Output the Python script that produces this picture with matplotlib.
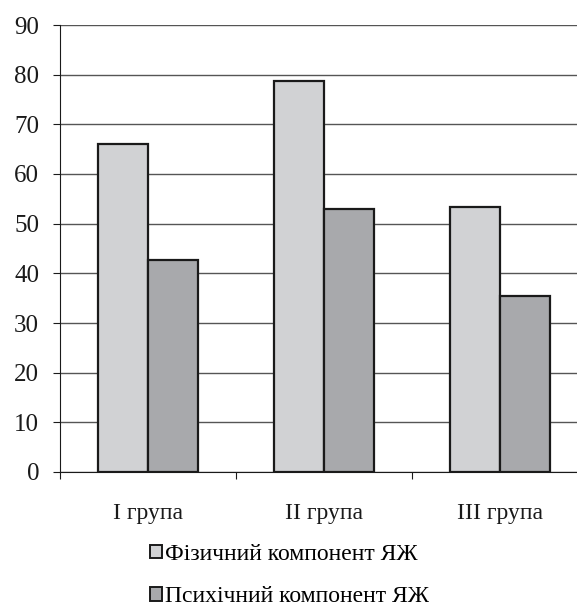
import matplotlib
matplotlib.use("Agg")
import matplotlib.pyplot as plt
import numpy as np
from matplotlib.patches import Patch

categories = ["I група", "II група", "III група"]
physical = [66.0, 78.7, 53.3]
mental = [42.7, 52.9, 35.4]
series_names = ["Фізичний компонент ЯЖ", "Психічний компонент ЯЖ"]
y_ticks = [0, 10, 20, 30, 40, 50, 60, 70, 80, 90]

plt.rcParams["font.family"] = ["Liberation Serif", "DejaVu Serif"]

fig = plt.figure(figsize=(5.77, 6.08), dpi=100)
ax = fig.add_axes([60 / 577, 1 - 472 / 608, 528 / 577, 447 / 608])

x = np.arange(len(categories))
w = 0.284
light = "#d1d2d4"
dark = "#a8a9ac"
ax.bar(x - w / 2, physical, w, color=light, edgecolor="#1a1a1a", linewidth=1.6, zorder=3)
ax.bar(x + w / 2, mental, w, color=dark, edgecolor="#1a1a1a", linewidth=1.6, zorder=3)

ax.set_xlim(-0.5, 2.5)
ax.set_ylim(0, 90)
ax.set_yticks(y_ticks)
ax.yaxis.grid(True, color="#555555", linewidth=1.0, zorder=0)
ax.set_axisbelow(True)

for s in ["top", "right"]:
    ax.spines[s].set_visible(False)
ax.spines["left"].set_color("#1a1a1a")
ax.spines["bottom"].set_color("#1a1a1a")

ax.tick_params(axis="y", length=5, width=0.8, pad=10, labelsize=18, colors="#1a1a1a")
ax.set_xticks([-0.5, 0.5, 1.5, 2.5])
ax.set_xticklabels([])
ax.tick_params(axis="x", length=5, width=0.8, colors="#1a1a1a")
for xi, lab in zip(x, categories):
    ax.annotate(lab, xy=(xi, 0), xycoords=("data", "axes fraction"),
                xytext=(0, -30), textcoords="offset points",
                ha="center", va="center", fontsize=17, color="#1a1a1a")

handles = [Patch(facecolor=light, edgecolor="#1a1a1a", linewidth=1.4),
           Patch(facecolor=dark, edgecolor="#1a1a1a", linewidth=1.4)]
fig.legend(handles, series_names, loc="upper left",
           bbox_to_anchor=(150 / 577, 1 - 544 / 608), frameon=False,
           fontsize=17, handlelength=0.5, handleheight=0.5,
           handletextpad=0.15, labelspacing=0.9, borderpad=0, borderaxespad=0)

fig.savefig("out.png", dpi=100)
